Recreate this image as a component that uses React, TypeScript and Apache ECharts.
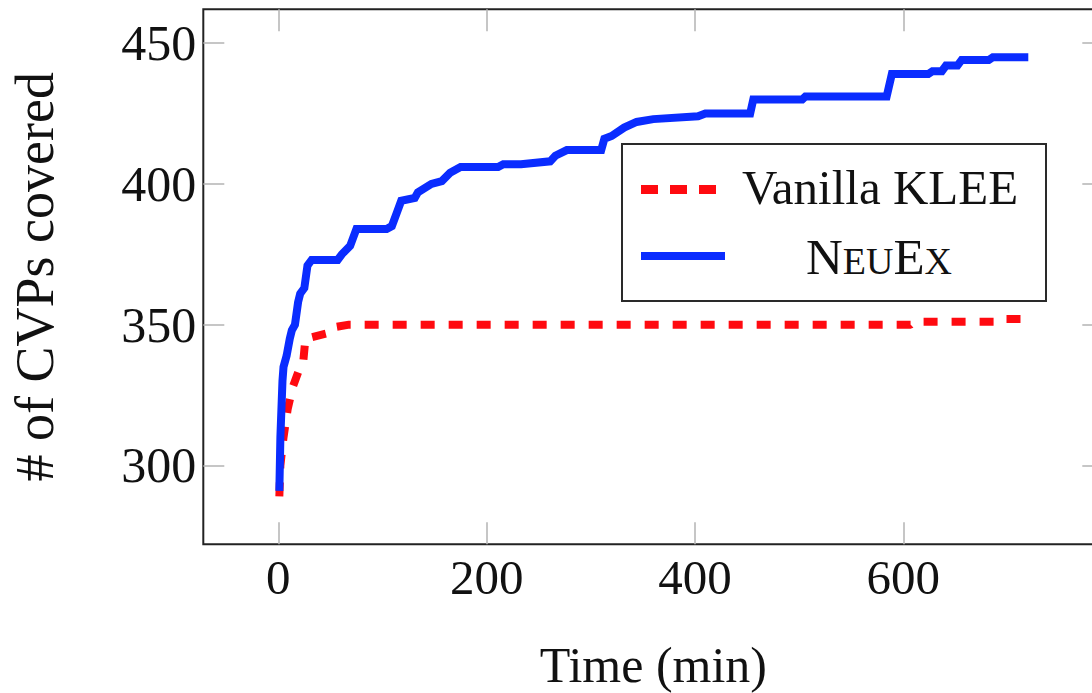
import React, { useEffect, useRef } from "react";
import * as echarts from "echarts";

// ---- data ----
const xTicks = [0, 200, 400, 600];
const yTicks = [300, 350, 400, 450];

const timeKlee = [1, 2, 5, 9, 14, 20, 24, 26, 48, 52, 68, 607, 610, 692, 695, 720];
const cvpKlee = [289, 300, 310, 320, 328, 334, 337, 345, 347, 349, 350, 350, 351, 351, 352, 352];

const timeNeuEx = [1, 2, 4, 5, 8, 11, 13, 16, 19, 21, 25, 28, 32, 57, 61, 69, 75, 104, 109, 114, 118, 131, 134, 147, 157, 165, 175, 211, 216, 233, 261, 266, 277, 310, 313, 320, 332, 344, 360, 403, 410, 453, 456, 503, 506, 584, 589, 624, 628, 637, 641, 652, 656, 682, 686, 720];
const cvpNeuEx = [291, 310, 330, 335, 339, 345, 348, 350, 358, 361, 363, 371, 373, 373, 375, 378, 384, 384, 385, 390, 394, 395, 397, 400, 401, 404, 406, 406, 407, 407, 408, 410, 412, 412, 416, 417, 420, 422, 423, 424, 425, 425, 430, 430, 431, 431, 439, 439, 440, 440, 442, 442, 444, 444, 445, 445];

const seriesNames = ["Vanilla KLEE", "NeuEx"];

const FONT = "'Liberation Serif', 'Times New Roman', serif";
const RED = "#ff0a10";
const BLUE = "#0a2cff";

export default function App() {
  const ref = useRef<HTMLDivElement>(null);
  useEffect(() => {
    if (!ref.current) return;
    const chart = echarts.init(ref.current, null, { renderer: "svg" });
    const tickStyle = { color: "#b8b8b8", width: 1.6 };
    const xBase = {
      type: "value",
      min: -72,
      max: 792,
      splitLine: { show: false },
      axisLine: { show: false, onZero: false },
    };
    const yBase = {
      type: "value",
      min: 272,
      max: 462,
      splitLine: { show: false },
      axisLine: { show: false, onZero: false },
    };
    chart.setOption({
      animation: false,
      backgroundColor: "#ffffff",
      grid: {
        left: 203.3,
        right: -11.3,
        top: 9.3,
        bottom: 148.7,
        show: true,
        borderColor: "#222",
        borderWidth: 2,
        backgroundColor: "transparent",
        containLabel: false,
        outerBoundsMode: "none",
      },
      xAxis: [
        {
          ...xBase,
          position: "bottom",
          name: "Time (min)",
          nameLocation: "middle",
          nameGap: 96,
          nameTextStyle: { fontFamily: FONT, fontSize: 50, color: "#111" },
          axisTick: { show: true, inside: true, length: 22, lineStyle: tickStyle, customValues: xTicks },
          axisLabel: { show: true, margin: 9, fontFamily: FONT, fontSize: 49, color: "#111", customValues: xTicks },
        },
        {
          ...xBase,
          position: "top",
          axisTick: { show: true, inside: true, length: 22, lineStyle: tickStyle, customValues: xTicks },
          axisLabel: { show: false },
        },
      ],
      yAxis: [
        {
          ...yBase,
          position: "left",
          name: "# of CVPs covered",
          nameLocation: "middle",
          nameGap: 141,
          nameTextStyle: { fontFamily: FONT, fontSize: 54, color: "#111" },
          axisTick: { show: true, inside: true, length: 21, lineStyle: tickStyle, customValues: yTicks },
          axisLabel: { show: true, margin: 7, fontFamily: FONT, fontSize: 50, color: "#111", customValues: yTicks },
        },
        {
          ...yBase,
          position: "right",
          axisTick: { show: true, inside: true, length: 21, lineStyle: tickStyle, customValues: yTicks },
          axisLabel: { show: false },
        },
      ],
      series: [
        {
          name: seriesNames[0],
          type: "line",
          xAxisIndex: 0,
          yAxisIndex: 0,
          showSymbol: false,
          symbol: "none",
          data: timeKlee.map((t, i) => [t, cvpKlee[i]]),
          lineStyle: { color: RED, width: 8, type: [14, 14], cap: "butt" },
          z: 2,
        },
        {
          name: seriesNames[1],
          type: "line",
          xAxisIndex: 0,
          yAxisIndex: 0,
          showSymbol: false,
          symbol: "none",
          data: timeNeuEx.map((t, i) => [t, cvpNeuEx[i]]),
          lineStyle: { color: BLUE, width: 8, join: "miter" },
          z: 3,
        },
      ],
      graphic: [
        {
          type: "group",
          z: 100,
          children: [
            {
              type: "rect",
              shape: { x: 622, y: 144, width: 424, height: 157 },
              style: { fill: "#ffffff", stroke: "#2a2a2a", lineWidth: 2 },
            },
            {
              type: "line",
              shape: { x1: 641, y1: 189.5, x2: 716, y2: 189.5 },
              style: { stroke: RED, lineWidth: 9, lineDash: [17, 12], lineCap: "butt" },
            },
            {
              type: "line",
              shape: { x1: 641, y1: 256, x2: 725, y2: 256 },
              style: { stroke: BLUE, lineWidth: 8 },
            },
            {
              type: "text",
              x: 880,
              y: 187,
              style: {
                text: seriesNames[0],
                fontFamily: FONT,
                fontSize: 49,
                fill: "#111",
                align: "center",
                verticalAlign: "middle",
              },
            },
            {
              type: "text",
              x: 879,
              y: 256,
              style: {
                text: "{a|N}{b|EU}{a|E}{b|X}",
                fontFamily: FONT,
                fill: "#111",
                align: "center",
                verticalAlign: "middle",
                rich: {
                  a: { fontFamily: FONT, fontSize: 51, fill: "#111", lineHeight: 52, verticalAlign: "bottom" },
                  b: { fontFamily: FONT, fontSize: 38, fill: "#111", lineHeight: 52, verticalAlign: "bottom", padding: [0, 0, 2, 0] },
                },
              },
            },
          ],
        },
      ],
    });
    return () => chart.dispose();
  }, []);
  return (
    <div
      ref={ref}
      style={{ position: "absolute", left: 0, top: 0, width: 1092, height: 693, overflow: "hidden" }}
    />
  );
}
